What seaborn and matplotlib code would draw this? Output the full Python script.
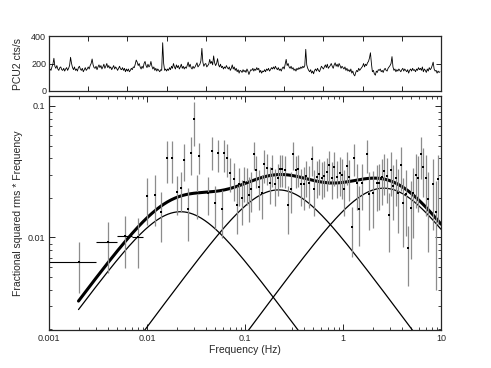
import numpy as np
import pandas as pd
import matplotlib
matplotlib.use('Agg')
import matplotlib.pyplot as plt
import matplotlib.ticker as mticker
import seaborn as sns

sns.set_style('ticks')
plt.rcParams['font.family'] = ['Liberation Sans', 'DejaVu Sans']

# light curve (PCU2 count rate), 400 bins across the observation
counts = [140, 160, 150, 175, 195, 238, 180, 165, 185, 160, 150, 170, 175, 155, 150, 165, 145, 160, 170, 150,
          165, 185, 245, 200, 170, 155, 175, 150, 160, 145, 170, 180, 160, 150, 165, 140, 155, 170, 150, 160,
          175, 160, 185, 200, 233, 190, 170, 165, 180, 155, 175, 190, 170, 185, 160, 175, 195, 165, 180, 200,
          170, 185, 165, 175, 155, 170, 185, 160, 175, 165, 150, 165, 180, 160, 155, 170, 150, 165, 140, 160,
          145, 160, 140, 150, 165, 155, 175, 170, 195, 225, 210, 185, 200, 175, 160, 180, 165, 200, 215, 185,
          170, 195, 175, 185, 215, 180, 160, 175, 150, 165, 145, 160, 150, 140, 155, 150, 351, 200, 150, 160,
          145, 160, 150, 170, 155, 180, 165, 200, 175, 160, 190, 170, 185, 160, 175, 195, 165, 180, 160, 175,
          165, 185, 210, 175, 195, 170, 160, 180, 165, 175, 190, 205, 175, 185, 195, 220, 310, 210, 180, 195,
          200, 175, 185, 195, 230, 200, 215, 190, 255, 205, 185, 200, 235, 190, 175, 195, 170, 180, 160, 175,
          165, 185, 170, 160, 175, 150, 165, 190, 160, 175, 150, 165, 140, 155, 130, 150, 145, 135, 155, 140,
          150, 135, 160, 145, 120, 140, 155, 150, 165, 145, 160, 150, 170, 155, 165, 135, 150, 130, 145, 140,
          155, 140, 160, 150, 165, 145, 155, 170, 160, 175, 160, 180, 165, 155, 170, 150, 160, 145, 165, 175,
          160, 195, 230, 185, 200, 175, 165, 180, 160, 170, 150, 160, 145, 165, 155, 170, 160, 175, 165, 180,
          170, 185, 303, 190, 165, 150, 140, 155, 130, 145, 125, 150, 160, 145, 165, 150, 140, 160, 180, 170,
          160, 175, 190, 170, 195, 165, 175, 185, 200, 180, 165, 190, 205, 180, 195, 175, 200, 185, 165, 180,
          170, 160, 175, 150, 165, 145, 155, 140, 160, 130, 145, 120, 110, 135, 150, 140, 165, 150, 160, 170,
          180, 200, 175, 195, 185, 205, 215, 240, 278, 200, 140, 150, 125, 115, 145, 135, 155, 150, 160, 140,
          150, 135, 155, 165, 150, 145, 165, 175, 185, 200, 250, 175, 150, 160, 140, 155, 145, 160, 150, 140,
          155, 165, 145, 160, 150, 140, 155, 130, 150, 160, 145, 165, 150, 155, 140, 160, 150, 170, 155, 165,
          150, 175, 140, 160, 150, 135, 160, 145, 170, 155, 165, 185, 210, 160, 145, 150, 130, 145, 135, 140]
bin_size = 2.5

# power spectrum points (Hz, rms^2 * freq, 1-sigma error)
freq = [0.002, 0.004, 0.006, 0.008,
        0.010, 0.012, 0.014, 0.016, 0.018, 0.020, 0.022, 0.024, 0.026, 0.028, 0.030, 0.032, 0.034,
        0.042, 0.046, 0.050, 0.0535, 0.058, 0.061, 0.066, 0.070, 0.077, 0.082, 0.087, 0.094, 0.098,
        0.104, 0.109, 0.115, 0.123, 0.131, 0.139, 0.148, 0.157, 0.168, 0.179, 0.190, 0.202, 0.216,
        0.229, 0.240, 0.256, 0.277, 0.295, 0.311, 0.329, 0.350, 0.373, 0.397, 0.423, 0.450, 0.479,
        0.509, 0.538, 0.569, 0.606, 0.645, 0.682, 0.720, 0.767, 0.815, 0.869, 0.924, 0.984,
        1.02, 1.09, 1.16, 1.23, 1.29, 1.38, 1.47, 1.55, 1.75, 1.85, 2.04, 2.21, 2.35, 2.48, 2.62,
        2.79, 2.94, 3.11, 3.26, 3.47, 3.67, 3.91, 4.12, 4.39, 4.64, 4.94, 5.21, 5.56, 5.86, 6.21,
        6.60, 7.03, 7.41, 8.35, 8.89, 9.37]
power = [0.0065, 0.0093, 0.0102, 0.0100,
         0.0205, 0.021, 0.0157, 0.0399, 0.0399, 0.0222, 0.0237, 0.039, 0.0166, 0.0441, 0.0789, 0.0219, 0.0416,
         0.0219, 0.0453, 0.0182, 0.0435, 0.0164, 0.0435, 0.040, 0.031, 0.028, 0.0176, 0.0255, 0.020, 0.0265,
         0.0258, 0.021, 0.0235, 0.0428, 0.0326, 0.0243, 0.0217, 0.036, 0.0339, 0.0261, 0.0333, 0.0253, 0.0285,
         0.033, 0.0333, 0.0326, 0.0176, 0.0233, 0.0428, 0.0326, 0.0333, 0.0253, 0.0253, 0.0293, 0.0258, 0.0393,
         0.0235, 0.029, 0.0302, 0.0285, 0.0293, 0.0315, 0.0353, 0.0285, 0.0345, 0.029, 0.0308, 0.0297,
         0.0235, 0.0349, 0.029, 0.0121, 0.0402, 0.0261, 0.0166, 0.0261, 0.0428, 0.0213, 0.0219, 0.0258, 0.0261,
         0.0288, 0.032, 0.0293, 0.0148, 0.0326, 0.0246, 0.0285, 0.0219, 0.0356, 0.0184, 0.0213, 0.0083, 0.0169,
         0.0219, 0.0299, 0.0285, 0.0428, 0.0343, 0.0285, 0.0197, 0.0253, 0.0155, 0.0277]
power_err = [0.0027, 0.0039, 0.0043, 0.0041,
             0.008, 0.0087, 0.0065, 0.014, 0.014, 0.0073, 0.008, 0.012, 0.0072, 0.014, 0.029, 0.008, 0.011,
             0.007, 0.013, 0.0065, 0.012, 0.0065, 0.012, 0.011, 0.009, 0.009, 0.007, 0.008, 0.0075, 0.008,
             0.008, 0.008, 0.008, 0.010, 0.009, 0.008, 0.008, 0.010, 0.009, 0.008, 0.009, 0.008, 0.008,
             0.009, 0.009, 0.009, 0.007, 0.008, 0.010, 0.009, 0.009, 0.008, 0.009, 0.009, 0.009, 0.010,
             0.009, 0.009, 0.009, 0.009, 0.009, 0.009, 0.010, 0.009, 0.010, 0.009, 0.010, 0.010,
             0.009, 0.010, 0.010, 0.005, 0.011, 0.010, 0.008, 0.010, 0.012, 0.010, 0.010, 0.010, 0.010,
             0.011, 0.011, 0.011, 0.007, 0.012, 0.011, 0.011, 0.011, 0.013, 0.010, 0.011, 0.004, 0.010,
             0.012, 0.013, 0.013, 0.015, 0.014, 0.014, 0.012, 0.014, 0.0115, 0.015]
freq_err = [0.001, 0.001, 0.001, 0.001]

# zero-centred Lorentzian components: peak frequency (Hz), peak value of nu*P
lor_peak_freq = [0.022, 0.22, 2.6]
lor_peak_norm = [0.0157, 0.023, 0.0237]


def lorentz(nu, d, a):
    return 2 * a * nu * d / (d ** 2 + nu ** 2)


fig = plt.figure(figsize=(4.91, 3.68), dpi=100)
W, H = 491, 368
ax1 = fig.add_axes([49 / W, 1 - 91 / H, 392 / W, 55 / H])
ax2 = fig.add_axes([49 / W, 1 - 330 / H, 392 / W, 234 / H])

# --- light curve
lc = pd.DataFrame({'t': np.arange(len(counts)) * bin_size, 'rate': counts})
sns.lineplot(data=lc, x='t', y='rate', ax=ax1, color='k', lw=0.6)
ax1.set_xlim(0, len(counts) * bin_size)
ax1.set_ylim(0, 400)
ax1.set_xticks(np.linspace(0, len(counts) * bin_size, 11))
ax1.set_yticks([0, 200, 400])
ax1.set_xticklabels([])
ax1.set_xlabel('')
ax1.set_ylabel('PCU2 cts/s', fontsize=7.5)
ax1.tick_params(direction='in', top=True, right=True, length=3.5, width=0.7, labelsize=6.5, pad=2)

# --- power spectrum
nu = np.logspace(np.log10(0.002), 1, 400)
comps = [lorentz(nu, d, a) for d, a in zip(lor_peak_freq, lor_peak_norm)]
total = np.sum(comps, axis=0)
for c in comps:
    sns.lineplot(x=nu, y=c, ax=ax2, color='k', lw=0.9, sort=False)
sns.lineplot(x=nu, y=total, ax=ax2, color='k', lw=2.2, sort=False)

ax2.errorbar(freq, power, yerr=power_err, fmt='none', ecolor='0.55', elinewidth=0.9, capsize=0)
ax2.errorbar(freq[:len(freq_err)], power[:len(freq_err)], xerr=freq_err, fmt='none',
             ecolor='k', elinewidth=0.8, capsize=0)
sns.scatterplot(x=freq, y=power, ax=ax2, marker='s', s=3, color='k', linewidth=0, zorder=5)

ax2.set_xscale('log')
ax2.set_yscale('log')
ax2.set_xlim(0.001, 10)
ax2.set_ylim(0.00198, 0.119)
fmt = mticker.FuncFormatter(lambda v, p: '{:g}'.format(v))
ax2.xaxis.set_major_formatter(fmt)
ax2.yaxis.set_major_formatter(fmt)
ax2.xaxis.set_minor_formatter(mticker.NullFormatter())
ax2.yaxis.set_minor_formatter(mticker.NullFormatter())
ax2.set_xlabel('Frequency (Hz)', fontsize=7.5, labelpad=1)
ax2.set_ylabel('Fractional squared rms * Frequency', fontsize=7.5)
ax2.tick_params(which='major', direction='in', top=True, right=True, length=4.5, width=0.7,
                labelsize=6.5, pad=3)
ax2.tick_params(which='minor', direction='in', top=True, right=True, length=2.5, width=0.6)

for ax in (ax1, ax2):
    for s in ax.spines.values():
        s.set_linewidth(0.9)
    ax.yaxis.set_label_coords(-0.066, 0.5)

fig.savefig('out.png', dpi=100)
